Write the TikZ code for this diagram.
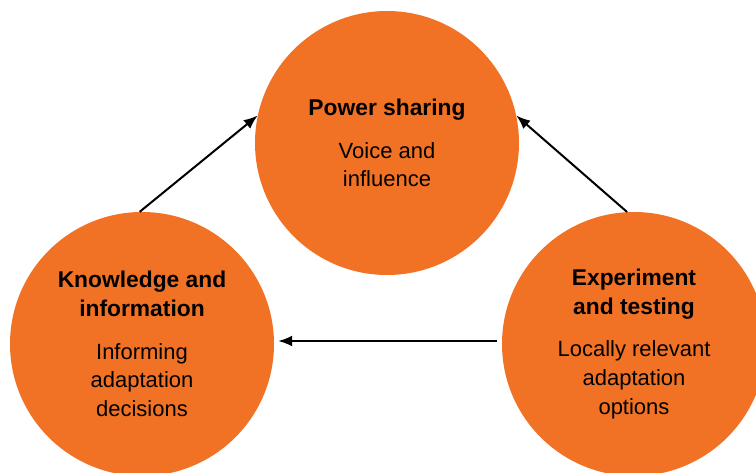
\documentclass[tikz,border=0pt]{standalone}
\usepackage{fontspec}
\setmainfont{Liberation Sans}
\usetikzlibrary{arrows.meta}
\definecolor{cycorange}{RGB}{242,114,37}
\newcommand{\hd}[1]{{\fontsize{22.8}{28.8}\selectfont\bfseries #1}}
\begin{document}
\begin{tikzpicture}[x=1pt,y=1pt,
  bubble/.style={circle,fill=cycorange,draw=none,minimum size=264pt,inner sep=0pt,
    align=center,font=\fontsize{22}{28.8}\selectfont},
  conn/.style={line width=2pt,-{Latex[length=14pt,width=11pt]}}]
\useasboundingbox (0,0) rectangle (756,472);
\clip (0,0) rectangle (756,472);
\node[bubble] (top) at (387,329) {\hd{Power sharing}\\[14pt]Voice and\\influence};
\node[bubble] (left) at (142,128) {\hd{Knowledge and}\\\hd{information}\\[14pt]Informing\\adaptation\\decisions};
\node[bubble] (right) at (634,128) {\hd{Experiment}\\\hd{and testing}\\[14pt]Locally relevant\\adaptation\\options};
\draw[conn] (left.91) -- (top.168);
\draw[conn] (right.93) -- (top.12);
\draw[conn] ([xshift=-5pt,yshift=3pt]right.west) -- ([xshift=4pt,yshift=3pt]left.east);
\end{tikzpicture}
\end{document}
